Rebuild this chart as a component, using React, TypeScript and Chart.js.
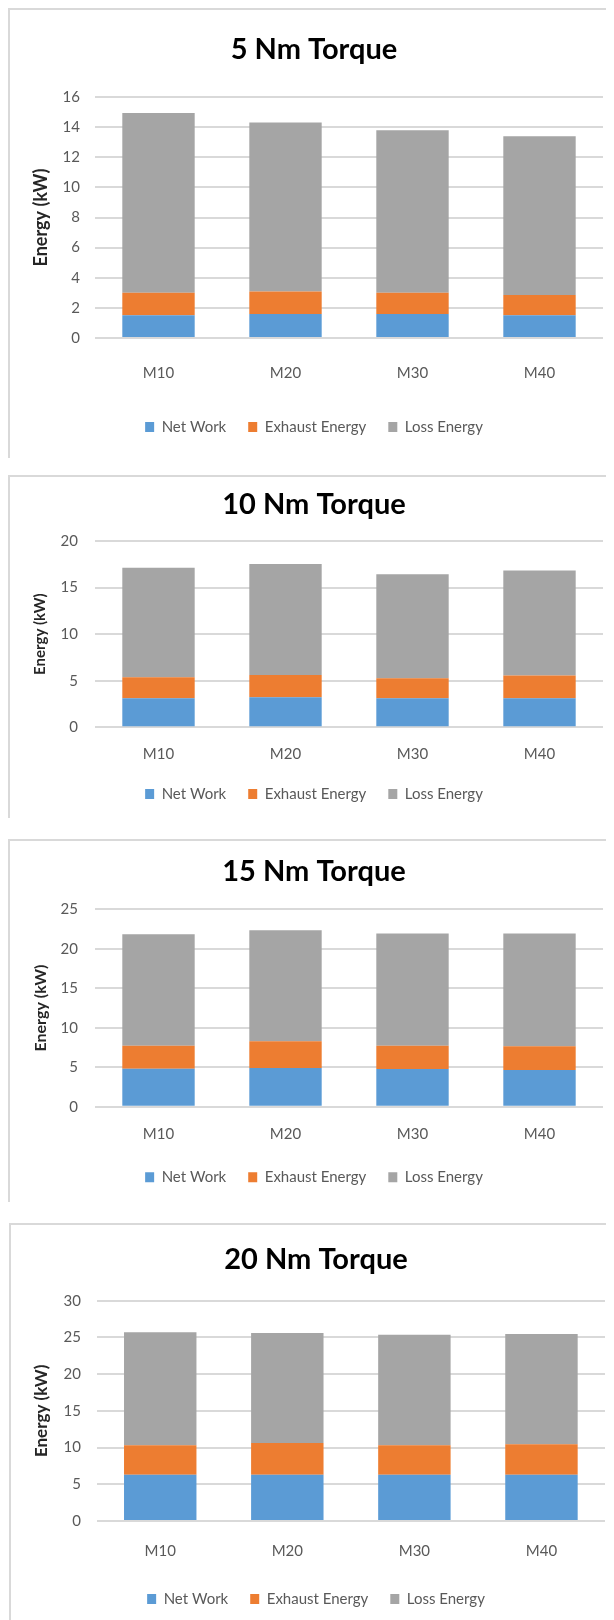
import React, { useEffect, useRef } from 'react';
import { Chart, registerables } from 'chart.js';

Chart.register(...registerables);

// ---- data ----
const categories = ['M10', 'M20', 'M30', 'M40'];
const seriesNames = ['Net Work', 'Exhaust Energy', 'Loss Energy'];
const panelTitles = ['5 Nm Torque', '10 Nm Torque', '15 Nm Torque', '20 Nm Torque'];
const yAxisTitle = 'Energy (kW)';
const yMaxes = [16, 20, 25, 30];
const ySteps = [2, 5, 5, 5];

const netWork5 = [1.51, 1.6, 1.6, 1.51];
const exhaust5 = [1.49, 1.48, 1.4, 1.35];
const loss5 = [11.94, 11.23, 10.8, 10.54];

const netWork10 = [3.11, 3.22, 3.11, 3.11];
const exhaust10 = [2.26, 2.4, 2.15, 2.44];
const loss10 = [11.77, 11.91, 11.16, 11.27];

const netWork15 = [4.81, 4.9, 4.77, 4.65];
const exhaust15 = [2.92, 3.38, 2.96, 2.99];
const loss15 = [14.1, 14.06, 14.19, 14.28];

const netWork20 = [6.31, 6.31, 6.31, 6.31];
const exhaust20 = [3.99, 4.31, 3.99, 4.13];
const loss20 = [15.39, 14.98, 15.07, 15.02];

const panelSeries = [
  [netWork5, exhaust5, loss5],
  [netWork10, exhaust10, loss10],
  [netWork15, exhaust15, loss15],
  [netWork20, exhaust20, loss20],
];

// ---- styles / layout ----
const seriesColors = ['#5B9BD5', '#ED7D31', '#A5A5A5'];
const FONT = 'Lato, "Open Sans", sans-serif';
const ORIGIN_X = 8;
const ORIGIN_Y = 8;

const panelLayouts = [
  { border: { x: 8, y: 8, h: 450 }, canvas: { x: 10, y: 10, w: 593, h: 448 }, padL: 15, padB: 13.5, titlePadTop: 22.6, titlePadBottom: 29.6, yW: 70, yTickPad: 15, yTitleSize: 18, yTitlePad: 5.2, xH: 59.5, xTickPad: 26 },
  { border: { x: 8, y: 475, h: 343 }, canvas: { x: 10, y: 477, w: 593, h: 341 }, padL: 15, padB: 6.5, titlePadTop: 10.6, titlePadBottom: 18.6, yW: 70, yTickPad: 17, yTitleSize: 15, yTitlePad: 6, xH: 37.2, xTickPad: 17.7 },
  { border: { x: 8, y: 839, h: 363 }, canvas: { x: 10, y: 841, w: 593, h: 361 }, padL: 15, padB: 7.2, titlePadTop: 13.6, titlePadBottom: 19.9, yW: 70, yTickPad: 17, yTitleSize: 16, yTitlePad: 6.4, xH: 41.1, xTickPad: 18.6 },
  { border: { x: 9, y: 1223, h: 397 }, canvas: { x: 11, y: 1225, w: 594, h: 395 }, padL: 16, padB: 3.5, titlePadTop: 16.9, titlePadBottom: 24.0, yW: 69.7, yTickPad: 15.7, yTitleSize: 17, yTitlePad: 4.8, xH: 48.5, xTickPad: 21 },
];

function Panel({ index }: { index: number }) {
  const ref = useRef<HTMLCanvasElement | null>(null);
  const L = panelLayouts[index];

  useEffect(() => {
    if (!ref.current) return;
    const series = panelSeries[index];
    const chart = new Chart(ref.current, {
      type: 'bar',
      data: {
        labels: categories,
        datasets: seriesNames.map((name, i) => ({
          label: name,
          data: series[i],
          backgroundColor: seriesColors[i],
          borderWidth: 0,
          categoryPercentage: 1,
          barPercentage: 0.57,
        })),
      },
      options: {
        animation: false,
        responsive: false,
        devicePixelRatio: 1,
        layout: { padding: { left: L.padL, right: 0, top: 0, bottom: L.padB } },
        plugins: {
          title: {
            display: true,
            text: panelTitles[index],
            color: '#000000',
            font: { family: FONT, size: 29, weight: 'bold' },
            padding: { top: L.titlePadTop, bottom: L.titlePadBottom },
          },
          legend: {
            position: 'bottom',
            labels: {
              boxWidth: 9,
              boxHeight: 10,
              padding: 22,
              color: '#595959',
              font: { family: FONT, size: 15 },
            },
          },
          tooltip: { enabled: false },
        },
        scales: {
          x: {
            stacked: true,
            grid: { display: false, drawTicks: false },
            border: { display: false },
            ticks: { padding: L.xTickPad, color: '#595959', font: { family: FONT, size: 15 } },
            afterFit: (s: any) => { s.height = L.xH; },
          },
          y: {
            stacked: true,
            min: 0,
            max: yMaxes[index],
            ticks: { stepSize: ySteps[index], padding: L.yTickPad, color: '#595959', font: { family: FONT, size: 15 } },
            grid: { color: '#D9D9D9', lineWidth: 2, drawTicks: false },
            border: { display: false },
            title: {
              display: true,
              text: yAxisTitle,
              color: '#262626',
              font: { family: FONT, size: L.yTitleSize, weight: 'bold' },
              padding: { top: L.yTitlePad, bottom: 0 },
            },
            afterFit: (s: any) => { s.width = L.yW; },
          },
        },
      } as any,
    });
    return () => chart.destroy();
  }, [index]);

  return (
    <>
      <div
        style={{
          position: 'absolute',
          left: L.border.x - ORIGIN_X,
          top: L.border.y - ORIGIN_Y,
          width: 640,
          height: L.border.h,
          borderTop: '2px solid #D9D9D9',
          borderLeft: '2px solid #D9D9D9',
          boxSizing: 'border-box',
        }}
      />
      <canvas
        ref={ref}
        width={L.canvas.w}
        height={L.canvas.h}
        style={{
          position: 'absolute',
          left: L.canvas.x - ORIGIN_X,
          top: L.canvas.y - ORIGIN_Y,
          width: L.canvas.w,
          height: L.canvas.h,
        }}
      />
    </>
  );
}

export default function App() {
  return (
    <div style={{ position: 'relative', width: 606, height: 1612, overflow: 'hidden', background: '#ffffff' }}>
      {panelTitles.map((_, i) => (
        <Panel key={i} index={i} />
      ))}
    </div>
  );
}
